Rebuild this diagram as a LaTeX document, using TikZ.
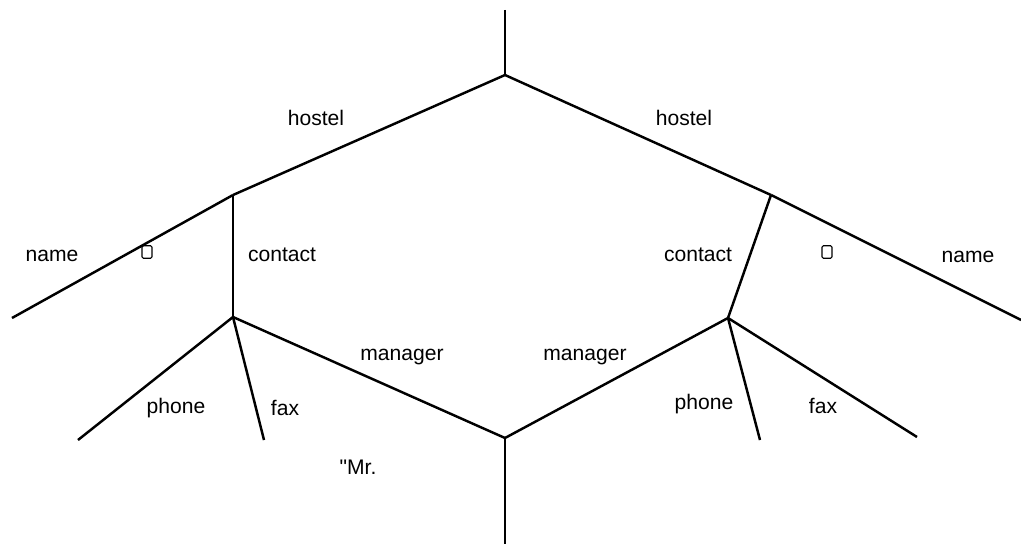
\documentclass[tikz,border=0pt]{standalone}
\usepackage{fontspec}
\setmainfont{Liberation Sans}
% plain family without TeX ligatures, so " stays straight
\newfontfamily\rawsans{Liberation Sans}
\usepackage{tikz}
\usetikzlibrary{positioning}

\begin{document}
\begin{tikzpicture}[
    x=0.02cm, y=-0.02cm,
    % Edge and label styles
    edge/.style={draw, line width=1.4pt},
    label/.style={font=\fontsize{12}{14}\selectfont, inner sep=1pt},
    glyphbox/.style={draw, line width=0.6pt, rounded corners=0.8pt, minimum width=0.2cm, minimum height=0.25cm, inner sep=0pt}
]
\useasboundingbox (0,0) rectangle (1021,544);

% Branch points
\coordinate (top) at (505,10);
\coordinate (root) at (505,75);
\coordinate (hl) at (233,195);
\coordinate (hr) at (771,195);
\coordinate (cl) at (233,317);
\coordinate (cr) at (728,318);
\coordinate (mgr) at (505,438);
\coordinate (bottom) at (505,544);

% Free ends
\coordinate (namel) at (12,318);
\coordinate (namer) at (1021,320);
\coordinate (phonel) at (78,440);
\coordinate (faxl) at (264,440);
\coordinate (phoner) at (760,440);
\coordinate (faxr) at (917,437);

% Edges
\draw[edge] (top) -- (root);
\draw[edge] (root) -- (hl);
\draw[edge] (root) -- (hr);
\draw[edge] (hl) -- (namel);
\draw[edge] (hl) -- (cl);
\draw[edge] (hr) -- (namer);
\draw[edge] (hr) -- (cr);
\draw[edge] (cl) -- (phonel);
\draw[edge] (cl) -- (faxl);
\draw[edge] (cl) -- (mgr);
\draw[edge] (cr) -- (mgr);
\draw[edge] (cr) -- (phoner);
\draw[edge] (cr) -- (faxr);
\draw[edge] (mgr) -- (bottom);

% Labels
\node[label] (hostell) at (316,118) {hostel};
\node[label] (hostelr) at (684,118) {hostel};
\node[label] (namelbl) at (52,256) {name};
\node[label] (namerbl) at (968,257) {name};
\node[glyphbox] (boxl) at (147,252) {};
\node[glyphbox] (boxr) at (827,252) {};
\node[label] (contactl) at (282,255) {contact};
\node[label] (contactr) at (698,255) {contact};
\node[label] (managerl) at (402,357) {manager};
\node[label] (managerr) at (585,357) {manager};
\node[label] (phonellbl) at (176,408) {phone};
\node[label] (faxllbl) at (285,408) {fax};
\node[label] (phonerlbl) at (704,404) {phone};
\node[label] (faxrlbl) at (823,406) {fax};
\node[label] (mister) at (358,467) {\rawsans "Mr.};

\end{tikzpicture}
\end{document}
